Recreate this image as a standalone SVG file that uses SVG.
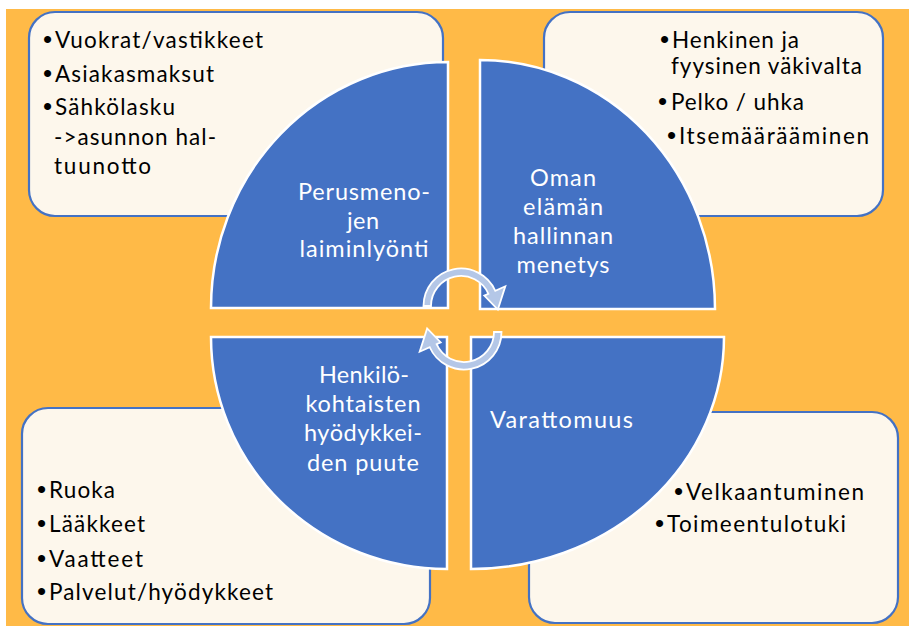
<svg xmlns="http://www.w3.org/2000/svg" width="909" height="626" viewBox="0 0 909 626">
<style>
.box{fill:#FDF7EC;stroke:#4472C4;stroke-width:2.2}
.q{fill:#4472C4;stroke:#FFFFFF;stroke-width:2.5}
.t{font-family:Lato,"Open Sans",sans-serif;font-size:22.5px;fill:#000000}
.b{font-family:"Liberation Sans",Arial,sans-serif;font-size:26px}
.l{font-family:Lato,"Open Sans",sans-serif;font-size:23.5px;fill:#FFFFFF;text-anchor:middle}
.w{font-family:Lato,"Open Sans",sans-serif;font-size:23.5px;fill:#FFFFFF}
.arc{fill:#B4C7E7;stroke:#FFFFFF;stroke-width:1.8;stroke-linejoin:miter}
</style>
<defs>
<path id="cyc" d="M -37.5 0 A 37.5 37.5 0 0 1 34.26 -15.25 L 44.3 -19.7 L 36.86 3.6 L 23.3 -10.4 L 27.41 -12.2 A 30 30 0 0 0 -30 0 Z"/>
</defs>
<rect x="0" y="0" width="909" height="626" fill="#FFFFFF"/>
<rect x="6" y="9" width="903" height="617" fill="#FFBA47"/>

<g id="box-tl">
<rect class="box" x="29" y="12" width="414" height="204" rx="26"/>
<text class="t" y="48"><tspan class="b" x="43">•</tspan><tspan x="55" textLength="208">Vuokrat/vastikkeet</tspan></text>
<text class="t" y="82"><tspan class="b" x="43">•</tspan><tspan x="55" textLength="159">Asiakasmaksut</tspan></text>
<text class="t" y="115"><tspan class="b" x="43">•</tspan><tspan x="55" textLength="120">Sähkölasku</tspan></text>
<text class="t" x="54" y="145" textLength="162">-&gt;asunnon hal-</text>
<text class="t" x="54" y="174" textLength="97">tuunotto</text>
</g>

<g id="box-tr">
<rect class="box" x="544" y="12" width="339" height="204" rx="26"/>
<text class="t" y="48"><tspan class="b" x="660">•</tspan><tspan x="672" textLength="127">Henkinen ja</tspan></text>
<text class="t" x="671" y="74" textLength="191">fyysinen väkivalta</text>
<text class="t" y="110"><tspan class="b" x="658">•</tspan><tspan x="671" textLength="133">Pelko / uhka</tspan></text>
<text class="t" y="144"><tspan class="b" x="667">•</tspan><tspan x="679" textLength="190">Itsemäärääminen</tspan></text>
</g>

<g id="box-bl">
<rect class="box" x="22" y="408" width="408" height="216" rx="26"/>
<text class="t" y="498"><tspan class="b" x="37">•</tspan><tspan x="49" textLength="66">Ruoka</tspan></text>
<text class="t" y="532"><tspan class="b" x="37">•</tspan><tspan x="49" textLength="96">Lääkkeet</tspan></text>
<text class="t" y="567"><tspan class="b" x="37">•</tspan><tspan x="49" textLength="94">Vaatteet</tspan></text>
<text class="t" y="600"><tspan class="b" x="37">•</tspan><tspan x="49" textLength="224">Palvelut/hyödykkeet</tspan></text>
</g>

<g id="box-br">
<rect class="box" x="529" y="412" width="369" height="211" rx="26"/>
<text class="t" y="500"><tspan class="b" x="674">•</tspan><tspan x="686" textLength="178">Velkaantuminen</tspan></text>
<text class="t" y="532"><tspan class="b" x="655">•</tspan><tspan x="667" textLength="179">Toimeentulotuki</tspan></text>
</g>

<g id="q-tl">
<path class="q" d="M448 308 L211 308 A237 246 0 0 1 448 62 Z"/>
<text class="l" x="364" y="200" textLength="132">Perusmeno-</text>
<text class="l" x="363" y="229" textLength="32">jen</text>
<text class="l" x="364" y="257" textLength="129">laiminlyönti</text>
</g>

<g id="q-tr">
<path class="q" d="M480 309 L480 60 A235 249 0 0 1 715 309 Z"/>
<text class="l" x="563" y="186" textLength="66">Oman</text>
<text class="l" x="563" y="215" textLength="80">elämän</text>
<text class="l" x="563" y="244" textLength="100">hallinnan</text>
<text class="l" x="563" y="273" textLength="93">menetys</text>
</g>

<g id="q-bl">
<path class="q" d="M447 337 L211 337 A236 232 0 0 0 447 569 Z"/>
<text class="l" x="364" y="383" textLength="90">Henkilö-</text>
<text class="l" x="363" y="412" textLength="115">kohtaisten</text>
<text class="l" x="363" y="441" textLength="118">hyödykkei-</text>
<text class="l" x="363" y="471" textLength="112">den puute</text>
</g>

<g id="q-br">
<path class="q" d="M471 337 L724 337 A253 232 0 0 1 471 569 Z"/>
<text class="w" x="490" y="428" textLength="143">Varattomuus</text>
</g>

<g id="connectors">
<use href="#cyc" class="arc" transform="translate(461 306)"/>
<use href="#cyc" class="arc" transform="translate(464 332) rotate(180)"/>
</g>
</svg>
